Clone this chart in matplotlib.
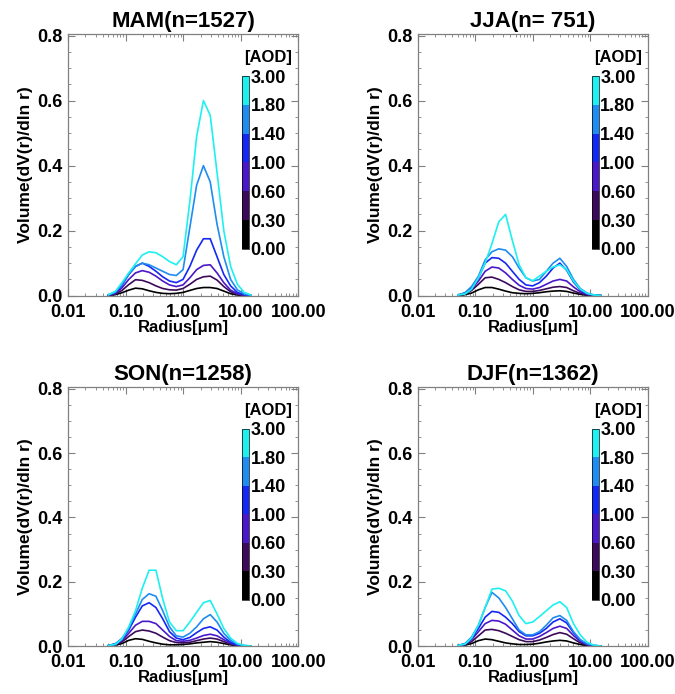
import numpy as np
import matplotlib
matplotlib.use("Agg")
import matplotlib.pyplot as plt
from matplotlib.colors import ListedColormap, BoundaryNorm
from matplotlib.cm import ScalarMappable
from matplotlib.ticker import MultipleLocator, LogLocator, NullFormatter

plt.rcParams['font.family'] = ['Liberation Sans', 'DejaVu Sans']
plt.rcParams['font.weight'] = 'bold'

# radius bins [um]
radius = [0.050, 0.066, 0.086, 0.113, 0.148, 0.194, 0.255, 0.335, 0.439, 0.576, 0.756,
          0.992, 1.302, 1.708, 2.241, 2.941, 3.859, 5.064, 6.644, 8.719, 11.44, 15.00]

aod_bounds = [0.0, 0.3, 0.6, 1.0, 1.4, 1.8, 3.0]
aod_colors = ['#000000', '#3c0a5a', '#4a18c8', '#1428f5', '#1e8cf0', '#1ef0f0']

seasons = ['MAM(n=1527)', 'JJA(n= 751)', 'SON(n=1258)', 'DJF(n=1362)']

# volume size distributions, one list per AOD class (low -> high)
mam = [
    [0.0005, 0.003, 0.009, 0.017, 0.023, 0.021, 0.015, 0.010, 0.007, 0.006, 0.007, 0.010, 0.016, 0.022, 0.025, 0.025, 0.022, 0.014, 0.006, 0.002, 0.0005, 0.0001],
    [0.001, 0.005, 0.016, 0.034, 0.049, 0.047, 0.040, 0.030, 0.022, 0.018, 0.017, 0.022, 0.035, 0.050, 0.058, 0.060, 0.048, 0.028, 0.012, 0.004, 0.001, 0.0002],
    [0.001, 0.007, 0.024, 0.050, 0.070, 0.077, 0.072, 0.060, 0.045, 0.033, 0.028, 0.033, 0.055, 0.080, 0.093, 0.095, 0.070, 0.040, 0.017, 0.006, 0.002, 0.0003],
    [0.002, 0.010, 0.032, 0.065, 0.090, 0.100, 0.090, 0.075, 0.058, 0.045, 0.040, 0.050, 0.090, 0.140, 0.175, 0.175, 0.120, 0.065, 0.030, 0.010, 0.003, 0.0005],
    [0.002, 0.011, 0.034, 0.067, 0.090, 0.100, 0.095, 0.085, 0.075, 0.065, 0.062, 0.080, 0.210, 0.340, 0.400, 0.350, 0.220, 0.120, 0.050, 0.018, 0.005, 0.001],
    [0.003, 0.013, 0.040, 0.070, 0.098, 0.125, 0.135, 0.132, 0.120, 0.105, 0.095, 0.120, 0.290, 0.490, 0.600, 0.555, 0.380, 0.200, 0.090, 0.035, 0.010, 0.002],
]
jja = [
    [0.0005, 0.003, 0.008, 0.018, 0.025, 0.025, 0.020, 0.014, 0.009, 0.007, 0.006, 0.007, 0.009, 0.012, 0.014, 0.015, 0.013, 0.008, 0.004, 0.001, 0.0003, 0.0001],
    [0.001, 0.005, 0.016, 0.035, 0.055, 0.057, 0.050, 0.040, 0.028, 0.018, 0.013, 0.013, 0.016, 0.021, 0.026, 0.028, 0.025, 0.015, 0.007, 0.002, 0.0005, 0.0001],
    [0.001, 0.006, 0.020, 0.045, 0.075, 0.088, 0.085, 0.070, 0.050, 0.032, 0.022, 0.020, 0.025, 0.035, 0.045, 0.050, 0.045, 0.027, 0.012, 0.004, 0.001, 0.0002],
    [0.002, 0.008, 0.025, 0.055, 0.100, 0.117, 0.115, 0.100, 0.075, 0.050, 0.033, 0.030, 0.040, 0.060, 0.085, 0.100, 0.078, 0.042, 0.018, 0.006, 0.002, 0.0003],
    [0.002, 0.009, 0.028, 0.060, 0.110, 0.135, 0.144, 0.140, 0.120, 0.085, 0.055, 0.045, 0.050, 0.075, 0.100, 0.115, 0.090, 0.050, 0.022, 0.008, 0.002, 0.0004],
    [0.002, 0.005, 0.020, 0.055, 0.100, 0.160, 0.227, 0.250, 0.170, 0.095, 0.055, 0.046, 0.060, 0.075, 0.088, 0.095, 0.080, 0.045, 0.020, 0.007, 0.002, 0.0004],
]
son = [
    [0.0005, 0.003, 0.008, 0.018, 0.023, 0.021, 0.015, 0.010, 0.006, 0.004, 0.004, 0.005, 0.007, 0.010, 0.012, 0.014, 0.012, 0.008, 0.004, 0.001, 0.0003, 0.0001],
    [0.001, 0.004, 0.013, 0.030, 0.045, 0.050, 0.047, 0.040, 0.028, 0.017, 0.011, 0.010, 0.012, 0.017, 0.022, 0.025, 0.022, 0.014, 0.006, 0.002, 0.0005, 0.0001],
    [0.001, 0.005, 0.017, 0.040, 0.065, 0.077, 0.077, 0.070, 0.050, 0.030, 0.017, 0.015, 0.018, 0.025, 0.033, 0.037, 0.032, 0.020, 0.009, 0.003, 0.001, 0.0002],
    [0.002, 0.007, 0.022, 0.050, 0.090, 0.125, 0.135, 0.120, 0.085, 0.045, 0.025, 0.020, 0.027, 0.042, 0.055, 0.060, 0.050, 0.028, 0.012, 0.004, 0.001, 0.0002],
    [0.002, 0.007, 0.024, 0.055, 0.100, 0.145, 0.163, 0.155, 0.110, 0.060, 0.032, 0.028, 0.040, 0.060, 0.085, 0.098, 0.075, 0.040, 0.018, 0.006, 0.002, 0.0003],
    [0.002, 0.005, 0.022, 0.060, 0.110, 0.180, 0.236, 0.236, 0.147, 0.075, 0.048, 0.048, 0.075, 0.105, 0.135, 0.142, 0.100, 0.055, 0.025, 0.008, 0.002, 0.0004],
]
djf = [
    [0.0005, 0.003, 0.008, 0.017, 0.022, 0.020, 0.015, 0.010, 0.007, 0.005, 0.005, 0.006, 0.009, 0.013, 0.016, 0.018, 0.016, 0.010, 0.005, 0.0015, 0.0004, 0.0001],
    [0.001, 0.004, 0.014, 0.032, 0.050, 0.052, 0.048, 0.040, 0.030, 0.020, 0.014, 0.014, 0.019, 0.027, 0.036, 0.042, 0.037, 0.023, 0.010, 0.003, 0.001, 0.0002],
    [0.001, 0.006, 0.020, 0.045, 0.070, 0.080, 0.078, 0.068, 0.050, 0.032, 0.022, 0.022, 0.030, 0.042, 0.055, 0.062, 0.055, 0.033, 0.015, 0.005, 0.001, 0.0002],
    [0.002, 0.007, 0.024, 0.055, 0.090, 0.108, 0.105, 0.090, 0.070, 0.045, 0.032, 0.032, 0.040, 0.055, 0.075, 0.085, 0.072, 0.042, 0.019, 0.006, 0.002, 0.0003],
    [0.002, 0.008, 0.028, 0.065, 0.120, 0.167, 0.150, 0.120, 0.085, 0.050, 0.035, 0.035, 0.045, 0.065, 0.088, 0.095, 0.080, 0.045, 0.020, 0.007, 0.002, 0.0003],
    [0.002, 0.006, 0.025, 0.065, 0.120, 0.177, 0.180, 0.172, 0.140, 0.095, 0.070, 0.075, 0.092, 0.110, 0.128, 0.138, 0.120, 0.070, 0.035, 0.012, 0.003, 0.0005],
]
season_data = [mam, jja, son, djf]

xticks = [0.01, 0.1, 1, 10, 100]
xticklabels = ['0.01', '0.10', '1.00', '10.00', '100.00']

fig = plt.figure(figsize=(6.75, 6.94), dpi=100)
# axes boxes in figure fraction: left, bottom, width, height
boxes = [[0.101, 0.574, 0.341, 0.377], [0.619, 0.574, 0.341, 0.377],
         [0.101, 0.069, 0.341, 0.373], [0.619, 0.069, 0.341, 0.373]]

cmap = ListedColormap(aod_colors)
norm = BoundaryNorm(aod_bounds, cmap.N)
axcol = '#808080'

for box, title, data in zip(boxes, seasons, season_data):
    ax = fig.add_axes(box)
    for vals, c in zip(data, aod_colors):
        ax.plot(radius, vals, color=c, lw=1.2)
    ax.set_xscale('log')
    ax.set_xlim(0.01, 100)
    ax.set_ylim(0, 0.805)
    ax.set_xticks(xticks)
    ax.set_xticklabels(xticklabels)
    ax.xaxis.set_minor_locator(LogLocator(base=10, subs=np.arange(2, 10)))
    ax.xaxis.set_minor_formatter(NullFormatter())
    ax.set_yticks([0.0, 0.2, 0.4, 0.6, 0.8])
    ax.set_yticklabels(['0.0', '0.2', '0.4', '0.6', '0.8'])
    ax.yaxis.set_minor_locator(MultipleLocator(0.05))
    ax.tick_params(which='both', direction='in', top=True, right=True, color=axcol,
                   labelsize=13)
    ax.tick_params(axis='y', pad=4)
    ax.tick_params(axis='x', pad=6)
    ax.tick_params(which='major', length=5, width=0.8)
    ax.tick_params(which='minor', length=2.5, width=0.6)
    for lab in ax.get_xticklabels() + ax.get_yticklabels():
        lab.set_fontweight('bold')
    for sp in ax.spines.values():
        sp.set_color(axcol)
        sp.set_linewidth(0.9)
    ax.set_title(title, fontsize=16, fontweight='bold', pad=5)
    ax.set_xlabel('Radius[\u03bcm]', fontsize=12, fontweight='bold', labelpad=-1)
    ax.set_ylabel('Volume(dV(r)/dln r)', fontsize=12.5, fontweight='bold', labelpad=3)

    cax = ax.inset_axes([0.757, 0.179, 0.03, 0.66])
    cb = fig.colorbar(ScalarMappable(norm=norm, cmap=cmap), cax=cax,
                      spacing='uniform', ticks=aod_bounds)
    cb.set_ticklabels(['%.2f' % b for b in aod_bounds])
    cb.outline.set_linewidth(0.5)
    cax.tick_params(length=0, labelsize=13, pad=1)
    for lab in cax.get_yticklabels():
        lab.set_fontweight('bold')
    ax.text(0.868, 0.912, '[AOD]', transform=ax.transAxes, ha='center', va='center',
            fontsize=12, fontweight='bold')

plt.savefig('out.png', dpi=100)
